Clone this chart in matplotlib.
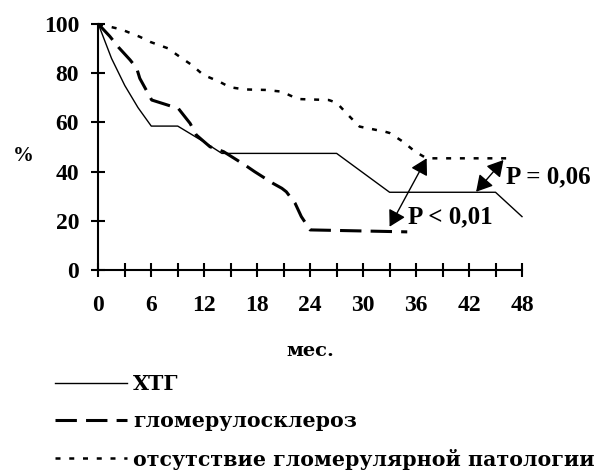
import numpy as np
import matplotlib
matplotlib.use("Agg")
import matplotlib.pyplot as plt
from matplotlib.lines import Line2D

# ---- data ----
months_xtg = [0, 1.5, 3, 4.5, 6, 9, 12, 14, 27, 33, 45, 48]
surv_xtg = [100, 86, 75, 66, 58.5, 58.5, 52, 47.4, 47.4, 31.6, 31.6, 21.7]

months_gs = [0, 1.3, 2.3, 3.6, 4.35, 4.7, 6.05, 7.9, 9.06, 10.4, 11.1, 12.65, 14.2,
             16.6, 17.7, 19.8, 20.8, 21.3, 22.3, 23, 24, 35]
surv_gs = [100, 95, 90.5, 85.4, 82, 77.9, 69.1, 67, 65.7, 59.6, 54.9, 50.1, 48.1,
           42.7, 40, 35.2, 33.2, 31.8, 27.1, 21.7, 16.3, 15.5]

months_none = [0, 2.6, 4.7, 5.9, 7.9, 8.9, 10.6, 11.9, 13.7, 14.9, 16.6, 18.9, 20.8,
               22.6, 26.1, 27, 28.3, 29.6, 32.5, 33, 34.5, 35.9, 37.2, 47]
surv_none = [100, 97.8, 94.8, 92.7, 90.1, 87.5, 83.3, 79.3, 76.6, 74.3, 73.4, 73.2, 72.5,
             69.5, 69.1, 68, 63, 58.3, 56.2, 55.7, 52.2, 48.1, 45.4, 45.4]

series_labels = ["ХТГ", "гломерулосклероз", "отсутствие гломерулярной патологии"]

x_ticks = list(range(0, 49, 3))
x_tick_labels = ["0", "", "6", "", "12", "", "18", "", "24", "", "30", "", "36", "", "42", "", "48"]
y_ticks = [0, 20, 40, 60, 80, 100]
y_tick_labels = ["0", "20", "40", "60", "80", "100"]

# comparisons (arrow endpoints) and p-values
cmp1_start, cmp1_end = (33.0, 17.6), (37.2, 45.4)
cmp2_start, cmp2_end = (42.8, 31.8), (45.9, 44.7)
p1_text, p1_pos = "P < 0,01", (35.1, 21.7)
p2_text, p2_pos = "P = 0,06", (46.2, 38.0)

x_label = "мес."
y_label = "%"

# ---- figure ----
plt.rcParams['font.family'] = ['Liberation Serif', 'DejaVu Serif']
wide = ['DejaVu Serif']
fig = plt.figure(figsize=(5.98, 4.75), dpi=100)
ax = fig.add_axes([98.3 / 598, 1 - 270 / 475, (522 - 98.3) / 598, (270 - 24) / 475])
ax.set_xlim(0, 48)
ax.set_ylim(0, 100)

l1, = ax.plot(months_xtg, surv_xtg, color='black', lw=1.0, clip_on=False)
l2, = ax.plot(months_gs, surv_gs, color='black', lw=2.2, dashes=(7, 3), clip_on=False)
l3, = ax.plot(months_none, surv_none, color='black', lw=1.8, dashes=(2, 3.5), clip_on=False)

for s, e in [(cmp1_start, cmp1_end), (cmp2_start, cmp2_end)]:
    ax.annotate("", xy=e, xytext=s,
                arrowprops=dict(arrowstyle='<|-|>,head_length=0.65,head_width=0.37',
                                mutation_scale=15, color='black', lw=1.0,
                                shrinkA=0, shrinkB=0))

ax.text(p1_pos[0], p1_pos[1], p1_text, fontsize=18, fontweight='bold', va='center', ha='left')
ax.text(p2_pos[0], p2_pos[1], p2_text, fontsize=18, fontweight='bold', va='center', ha='left')

for sp in ['top', 'right']:
    ax.spines[sp].set_visible(False)
for sp in ['left', 'bottom']:
    ax.spines[sp].set_linewidth(1.5)

ax.set_xticks(x_ticks)
ax.set_xticklabels(x_tick_labels, fontsize=17, fontweight='bold')
ax.set_yticks(y_ticks)
ax.set_yticklabels(y_tick_labels, fontsize=17, fontweight='bold')
ax.tick_params(axis='x', direction='inout', length=9.6, width=1.5, pad=13)
ax.tick_params(axis='y', direction='inout', length=9.6, width=1.5, pad=9)

ax.set_xlabel(x_label, fontsize=14, fontweight='bold', family=wide)
ax.xaxis.set_label_coords(0.5, -(351 - 270) / 246, transform=ax.transAxes)
ax.xaxis.label.set_va('center')
ax.set_ylabel(y_label, fontsize=15, fontweight='bold', rotation=0, va='center', ha='center')
ax.yaxis.set_label_coords((23 - 98.3) / (522 - 98.3), (270 - 156) / 246)

leg = fig.legend([l1, l2, l3], series_labels, loc='upper left',
                 bbox_to_anchor=(55 / 598, 1 - 374 / 475), frameon=False,
                 prop=dict(size=14.8, weight='bold', family=wide), handlelength=3.5,
                 handletextpad=0.3, labelspacing=0.84, borderpad=0, borderaxespad=0)

fig.savefig("out.png", dpi=100)
